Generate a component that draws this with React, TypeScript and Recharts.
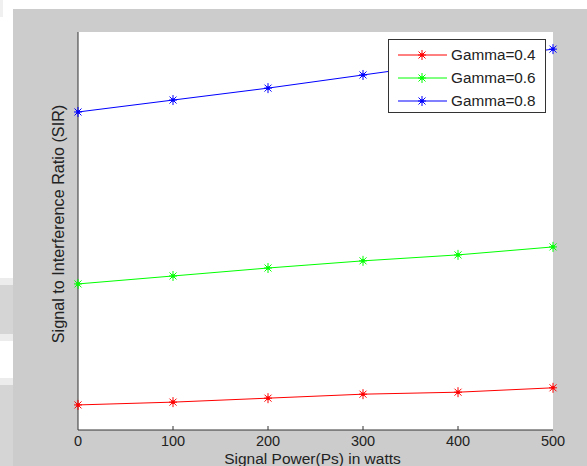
import React from 'react';
import { LineChart, Line, XAxis, YAxis, CartesianGrid, Legend } from 'recharts';

const powerLevels = [0, 100, 200, 300, 400, 500];
const sirGamma04 = [6.3, 7.0, 8.0, 9.0, 9.5, 10.6];
const sirGamma06 = [36.7, 38.7, 40.7, 42.5, 44.0, 46.0];
const sirGamma08 = [79.9, 82.9, 85.9, 89.2, 92.5, 95.7];
const xTicks = [0, 100, 200, 300, 400, 500];
const seriesNames = ['Gamma=0.4', 'Gamma=0.6', 'Gamma=0.8'];
const seriesColors = ['#ff0000', '#00ff00', '#0000ff'];
const xAxisTitle = 'Signal Power(Ps) in watts';
const yAxisTitle = 'Signal to Interference Ratio (SIR)';

const data = powerLevels.map((p, i) => ({
  p,
  g04: sirGamma04[i],
  g06: sirGamma06[i],
  g08: sirGamma08[i],
}));

const FONT = '"Liberation Sans", Arial, sans-serif';
const AXIS = '#333333';

const StarDot = (props: any) => {
  const { cx, cy, stroke } = props;
  if (cx == null || cy == null) return null;
  return (
    <g stroke={stroke} strokeWidth={1}>
      <line x1={cx} y1={cy - 5} x2={cx} y2={cy + 5} />
      <line x1={cx - 4} y1={cy} x2={cx + 4} y2={cy} />
      <line x1={cx - 3.5} y1={cy - 3.5} x2={cx + 3.5} y2={cy + 3.5} />
      <line x1={cx - 3.5} y1={cy + 3.5} x2={cx + 3.5} y2={cy - 3.5} />
      <circle cx={cx} cy={cy} r={1.8} fill={stroke} stroke="none" />
    </g>
  );
};

const BottomTick = (props: any) => {
  const { x, y, payload } = props;
  const edge = payload.value === xTicks[0] || payload.value === xTicks[xTicks.length - 1];
  return (
    <g>
      {!edge && <line x1={x} y1={y} x2={x} y2={y - 4} stroke={AXIS} />}
      <text x={x} y={y + 16} textAnchor="middle" fontFamily={FONT} fontSize={14.5} fill="#222">
        {payload.value}
      </text>
    </g>
  );
};

const TopTick = (props: any) => {
  const { x, y, payload } = props;
  const edge = payload.value === xTicks[0] || payload.value === xTicks[xTicks.length - 1];
  if (edge) return <g />;
  return <line x1={x} y1={y} x2={x} y2={y + 4} stroke={AXIS} />;
};

const XTitle = (props: any) => {
  const { viewBox } = props;
  return (
    <text
      x={viewBox.x + viewBox.width / 2 - 3}
      y={viewBox.y + 34}
      textAnchor="middle"
      fontFamily={FONT}
      fontSize={15.5}
      fill="#222"
    >
      {xAxisTitle}
    </text>
  );
};

const YTitle = (props: any) => {
  const { viewBox } = props;
  const cx = viewBox.x + viewBox.width - 14;
  const cy = viewBox.y + viewBox.height / 2 - 7;
  return (
    <text
      transform={`translate(${cx}, ${cy}) rotate(-90)`}
      x={0}
      y={0}
      textAnchor="middle"
      fontFamily={FONT}
      fontSize={16.2}
      fill="#222"
    >
      {yAxisTitle}
    </text>
  );
};

const LegendBox = () => (
  <div
    style={{
      width: 158,
      height: 74,
      boxSizing: 'border-box',
      border: '1px solid #333',
      background: '#fff',
      paddingTop: 3,
    }}
  >
    {seriesNames.map((name, i) => (
      <div key={name} style={{ display: 'flex', alignItems: 'center', height: 23 }}>
        <svg width={62} height={14} style={{ display: 'block' }}>
          <line x1={9} y1={7} x2={58} y2={7} stroke={seriesColors[i]} strokeWidth={1} />
          <StarDot cx={33} cy={7} stroke={seriesColors[i]} />
        </svg>
        <span style={{ fontFamily: FONT, fontSize: 15.3, color: '#222', lineHeight: '23px' }}>{name}</span>
      </div>
    ))}
  </div>
);

export default function App() {
  return (
    <div style={{ position: 'absolute', left: 0, top: 0, width: 587, height: 466, background: '#fff', overflow: 'hidden' }}>
      <div style={{ position: 'absolute', left: 0, top: 0, width: 3, height: 17, background: '#f0f0f0' }} />
      <div style={{ position: 'absolute', left: 0, top: 278, width: 13, height: 7, background: '#ececec' }} />
      <div style={{ position: 'absolute', left: 0, top: 285, width: 13, height: 49, background: '#d5d5d5' }} />
      <div style={{ position: 'absolute', left: 0, top: 334, width: 13, height: 7, background: '#ececec' }} />
      <div style={{ position: 'absolute', left: 0, top: 378, width: 13, height: 7, background: '#ececec' }} />
      <div style={{ position: 'absolute', left: 0, top: 385, width: 13, height: 81, background: '#d5d5d5' }} />
      <div style={{ position: 'absolute', left: 13, top: 9, width: 574, height: 457, background: '#cccccc' }} />
      <div style={{ position: 'absolute', left: 0, top: 0 }}>
        <LineChart width={587} height={466} data={data} margin={{ top: 32, right: 34, bottom: 0, left: 58 }}>
          <CartesianGrid fill="#ffffff" horizontal={false} vertical={false} />
          <XAxis
            dataKey="p"
            type="number"
            domain={[0, 500]}
            ticks={xTicks}
            interval={0}
            height={36}
            axisLine={{ stroke: AXIS }}
            tickLine={false}
            tickSize={0}
            tickMargin={0}
            tick={<BottomTick />}
            label={{ value: xAxisTitle, content: <XTitle /> }}
          />
          <XAxis
            xAxisId="top"
            orientation="top"
            dataKey="p"
            type="number"
            domain={[0, 500]}
            ticks={xTicks}
            interval={0}
            height={0}
            axisLine={{ stroke: AXIS }}
            tickLine={false}
            tickSize={0}
            tickMargin={0}
            tick={<TopTick />}
          />
          <YAxis
            type="number"
            domain={[0, 100]}
            width={20}
            axisLine={{ stroke: AXIS }}
            tickLine={false}
            tick={false}
            label={{ value: yAxisTitle, content: <YTitle /> }}
          />
          <YAxis
            yAxisId="right"
            orientation="right"
            type="number"
            domain={[0, 100]}
            width={0}
            axisLine={{ stroke: AXIS }}
            tickLine={false}
            tick={false}
          />
          <Legend
            layout="horizontal"
            verticalAlign="middle"
            align="center"
            content={<LegendBox />}
            wrapperStyle={{ left: 388, top: 39, width: 158, height: 74 }}
          />
          <Line dataKey="g04" name={seriesNames[0]} stroke={seriesColors[0]} strokeWidth={1} dot={<StarDot />} activeDot={false} isAnimationActive={false} />
          <Line dataKey="g06" name={seriesNames[1]} stroke={seriesColors[1]} strokeWidth={1} dot={<StarDot />} activeDot={false} isAnimationActive={false} />
          <Line dataKey="g08" name={seriesNames[2]} stroke={seriesColors[2]} strokeWidth={1} dot={<StarDot />} activeDot={false} isAnimationActive={false} />
        </LineChart>
      </div>
    </div>
  );
}
